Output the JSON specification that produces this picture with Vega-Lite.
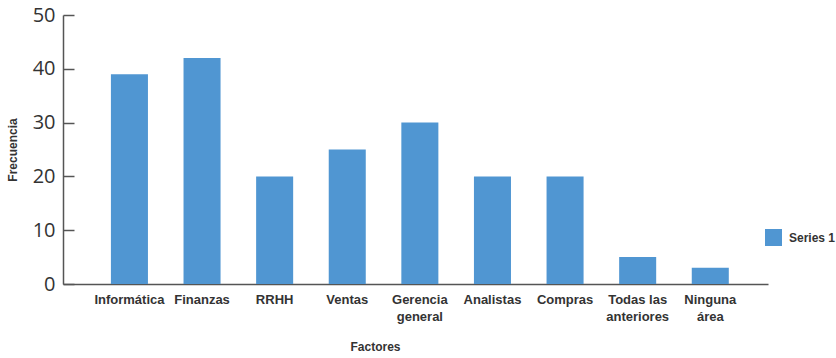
{
  "$schema": "https://vega.github.io/schema/vega-lite/v6.json",
  "width": 705,
  "height": 269,
  "autosize": {"type": "none"},
  "padding": {"left": 63, "top": 15, "right": 68, "bottom": 74},
  "background": "white",
  "data": {
    "values": [
      {"factor": "Informática", "frecuencia": 39, "serie": "Series 1"},
      {"factor": "Finanzas", "frecuencia": 42, "serie": "Series 1"},
      {"factor": "RRHH", "frecuencia": 20, "serie": "Series 1"},
      {"factor": "Ventas", "frecuencia": 25, "serie": "Series 1"},
      {"factor": "Gerencia general", "frecuencia": 30, "serie": "Series 1"},
      {"factor": "Analistas", "frecuencia": 20, "serie": "Series 1"},
      {"factor": "Compras", "frecuencia": 20, "serie": "Series 1"},
      {"factor": "Todas las anteriores", "frecuencia": 5, "serie": "Series 1"},
      {"factor": "Ninguna área", "frecuencia": 3, "serie": "Series 1"}
    ]
  },
  "mark": {"type": "bar"},
  "encoding": {
    "x": {
      "field": "factor",
      "type": "nominal",
      "sort": null,
      "scale": {"paddingInner": 0.49, "paddingOuter": 0.6, "align": 0.55},
      "axis": {
        "title": "Factores",
        "labelAngle": 0,
        "ticks": false,
        "labelPadding": 9,
        "labelFont": "Liberation Sans",
        "labelFontWeight": "bold",
        "labelFontSize": 13,
        "labelColor": "#333333",
        "labelLineHeight": 17,
        "labelExpr": "indexof(datum.label, ' ') < 0 ? datum.label : [substring(datum.label, 0, lastindexof(datum.label, ' ')), substring(datum.label, lastindexof(datum.label, ' ') + 1)]",
        "domainColor": "#555555",
        "domainWidth": 1.5,
        "titleFont": "Liberation Sans",
        "titleFontWeight": "bold",
        "titleFontSize": 12,
        "titleColor": "#333333",
        "titleX": 312,
        "titleY": 62,
        "titleBaseline": "middle"
      }
    },
    "y": {
      "field": "frecuencia",
      "type": "quantitative",
      "scale": {"domain": [0, 50], "nice": false},
      "axis": {
        "title": "Frecuencia",
        "values": [0, 10, 20, 30, 40, 50],
        "grid": false,
        "tickSize": -11,
        "tickColor": "#555555",
        "tickWidth": 1.5,
        "domainColor": "#555555",
        "domainWidth": 1.5,
        "labelPadding": 19,
        "labelFont": "Open Sans",
        "labelFontSize": 20,
        "labelColor": "#333333",
        "titleFont": "Liberation Sans",
        "titleFontWeight": "bold",
        "titleFontSize": 12,
        "titleColor": "#333333",
        "titlePadding": 13
      }
    },
    "color": {
      "field": "serie",
      "type": "nominal",
      "scale": {"range": ["#5096d2"]},
      "legend": {
        "title": null,
        "orient": "none",
        "legendX": 702,
        "legendY": 214,
        "padding": 0,
        "symbolType": "square",
        "symbolSize": 289,
        "symbolStrokeWidth": 0,
        "symbolOpacity": 1,
        "labelFont": "Liberation Sans",
        "labelFontWeight": "bold",
        "labelFontSize": 12,
        "labelColor": "#333333",
        "labelOffset": 7
      }
    }
  },
  "config": {"view": {"stroke": null}}
}
